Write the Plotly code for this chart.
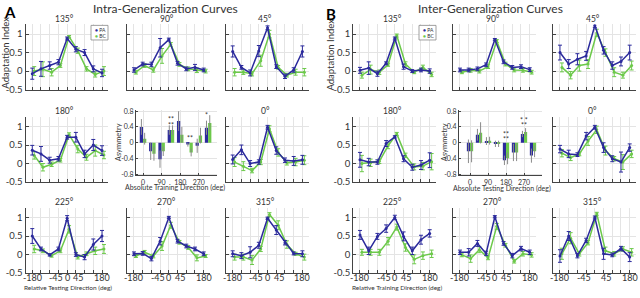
import plotly.graph_objects as go

W, H = 640, 298
BLUE = "#2b2a9c"
GREEN = "#6cc94a"
TXT = "#333333"
GRID = "#e4e4e4"
FONT = "Lato"

# ---------------- data ----------------
rel_dirs = [-180, -135, -90, -45, 0, 45, 90, 135, 180]
abs_dirs = [0, 45, 90, 135, 180, 225, 270, 315]
abs_ticks = [0, 90, 180, 270]
abs_ticktext = ["0", "90", "180", "270"]
rel_label_vals = [-180, -45, 0, 45, 180]
rel_label_text = ["-180", "-45", "0", "45", "180"]
rel_label_vals_no0 = [-180, -45, 45, 180]
rel_label_text_no0 = ["-180", "-45", "45", "180"]
y_ticks = [-0.5, 0, 0.5, 1]
y_ticktext = ["-0.5", "0", "0.5", "1"]

# Panel A (intra-generalization)
A135_PA = [-0.07, 0.06, 0.15, 0.24, 0.88, 0.59, 0.50, 0.06, -0.05]
A135_PA_err = [0.15, 0.2, 0.1, 0.07, 0.04, 0.07, 0.08, 0.08, 0.1]
A135_BC = [0.0, 0.05, -0.03, 0.15, 0.93, 0.55, 0.06, -0.09, 0.0]
A135_BC_err = [0.12, 0.2, 0.1, 0.05, 0.03, 0.07, 0.06, 0.07, 0.12]

A90_PA = [0.03, 0.19, 0.18, 0.63, 0.85, 0.21, 0.06, 0.10, 0.03]
A90_PA_err = [0.06, 0.05, 0.06, 0.25, 0.04, 0.05, 0.05, 0.08, 0.05]
A90_BC = [-0.03, 0.15, 0.03, 0.41, 0.72, 0.18, 0.06, 0.02, 0.0]
A90_BC_err = [0.05, 0.05, 0.06, 0.2, 0.05, 0.05, 0.05, 0.06, 0.05]

A45_PA = [0.53, 0.10, -0.05, 0.54, 1.17, 0.12, -0.14, 0.03, 0.53]
A45_PA_err = [0.15, 0.05, 0.08, 0.15, 0.05, 0.05, 0.06, 0.06, 0.15]
A45_BC = [-0.03, -0.03, -0.07, 0.28, 1.0, 0.10, -0.11, -0.03, -0.03]
A45_BC_err = [0.1, 0.06, 0.06, 0.15, 0.1, 0.05, 0.05, 0.08, 0.1]

A180_PA = [0.36, 0.26, 0.09, 0.13, 0.71, 0.71, 0.26, 0.50, 0.35]
A180_PA_err = [0.13, 0.2, 0.08, 0.06, 0.05, 0.13, 0.1, 0.15, 0.13]
A180_BC = [0.22, -0.10, -0.02, 0.09, 0.78, 0.39, 0.17, 0.35, 0.23]
A180_BC_err = [0.1, 0.1, 0.06, 0.05, 0.05, 0.1, 0.08, 0.15, 0.1]

A0_PA = [0.11, 0.37, 0.0, 0.04, 0.98, 0.35, 0.09, 0.07, 0.10]
A0_PA_err = [0.12, 0.13, 0.08, 0.06, 0.05, 0.1, 0.06, 0.12, 0.12]
A0_BC = [0.04, -0.07, -0.19, 0.04, 0.94, 0.30, 0.02, 0.04, 0.09]
A0_BC_err = [0.12, 0.12, 0.06, 0.07, 0.08, 0.1, 0.06, 0.1, 0.12]

A225_PA = [0.50, 0.15, -0.01, 0.15, 0.98, 0.0, -0.07, 0.27, 0.50]
A225_PA_err = [0.2, 0.05, 0.03, 0.05, 0.07, 0.05, 0.07, 0.15, 0.15]
A225_BC = [0.15, 0.10, -0.03, 0.10, 0.68, -0.07, 0.02, 0.10, 0.15]
A225_BC_err = [0.1, 0.05, 0.04, 0.05, 0.1, 0.05, 0.05, 0.1, 0.12]

A270_PA = [0.02, 0.03, -0.11, 0.36, 1.0, 0.36, 0.23, 0.15, 0.02]
A270_PA_err = [0.05, 0.05, 0.06, 0.1, 0.03, 0.05, 0.05, 0.05, 0.05]
A270_BC = [-0.04, 0.06, -0.04, 0.23, 0.79, 0.33, 0.19, -0.09, -0.04]
A270_BC_err = [0.04, 0.05, 0.05, 0.12, 0.08, 0.05, 0.05, 0.08, 0.04]

A315_PA = [0.02, -0.03, 0.06, 0.25, 0.98, 0.66, 0.32, 0.03, 0.02]
A315_PA_err = [0.08, 0.08, 0.15, 0.08, 0.03, 0.12, 0.06, 0.04, 0.08]
A315_BC = [-0.07, -0.07, -0.15, 0.15, 1.08, 0.79, 0.27, 0.02, -0.07]
A315_BC_err = [0.08, 0.08, 0.12, 0.07, 0.05, 0.12, 0.1, 0.04, 0.08]

A_asym_PA = [0.40, -0.22, -0.42, 0.32, 0.55, -0.05, -0.08, 0.38]
A_asym_PA_err = [0.2, 0.22, 0.22, 0.12, 0.25, 0.05, 0.18, 0.18]
A_asym_BC = [0.10, -0.28, -0.22, 0.32, 0.20, -0.25, 0.18, 0.50]
A_asym_BC_err = [0.15, 0.18, 0.12, 0.12, 0.2, 0.1, 0.2, 0.2]

# Panel B (inter-generalization)
B135_PA = [0.02, 0.08, -0.07, 0.21, 0.88, 0.12, 0.0, 0.03, 0.0]
B135_PA_err = [0.08, 0.17, 0.07, 0.04, 0.04, 0.07, 0.04, 0.05, 0.06]
B135_BC = [-0.11, 0.04, -0.03, 0.17, 0.96, 0.19, -0.03, 0.10, -0.09]
B135_BC_err = [0.08, 0.12, 0.06, 0.04, 0.04, 0.06, 0.04, 0.06, 0.06]

B90_PA = [0.03, 0.03, 0.06, 0.17, 0.85, 0.25, 0.10, 0.12, 0.04]
B90_PA_err = [0.05, 0.05, 0.05, 0.05, 0.03, 0.05, 0.05, 0.05, 0.05]
B90_BC = [-0.03, 0.02, 0.0, 0.12, 0.81, 0.19, 0.03, 0.02, -0.03]
B90_BC_err = [0.04, 0.05, 0.05, 0.05, 0.04, 0.05, 0.05, 0.05, 0.05]

B45_PA = [0.50, 0.19, 0.32, 0.41, 1.23, 0.56, 0.15, 0.26, 0.50]
B45_PA_err = [0.2, 0.12, 0.15, 0.12, 0.05, 0.1, 0.1, 0.12, 0.2]
B45_BC = [0.10, -0.11, 0.15, 0.19, 1.03, 0.50, -0.03, -0.11, 0.15]
B45_BC_err = [0.12, 0.1, 0.15, 0.12, 0.1, 0.1, 0.12, 0.08, 0.12]

B180_PA = [0.10, 0.04, 0.04, 0.54, 0.72, 0.13, -0.10, -0.04, 0.09]
B180_PA_err = [0.2, 0.1, 0.06, 0.08, 0.03, 0.08, 0.08, 0.12, 0.2]
B180_BC = [0.0, 0.02, 0.06, 0.48, 0.80, 0.22, -0.09, -0.07, 0.05]
B180_BC_err = [0.22, 0.1, 0.06, 0.08, 0.04, 0.06, 0.08, 0.1, 0.22]

B0_PA = [0.39, 0.26, 0.24, 0.74, 0.98, 0.43, 0.13, 0.04, 0.43]
B0_PA_err = [0.1, 0.1, 0.05, 0.1, 0.05, 0.13, 0.08, 0.27, 0.1]
B0_BC = [0.28, 0.16, 0.26, 0.61, 0.91, 0.35, 0.13, 0.04, 0.26]
B0_BC_err = [0.1, 0.08, 0.05, 0.12, 0.1, 0.12, 0.06, 0.2, 0.1]

B225_PA = [0.53, 0.10, 0.49, 0.70, 1.0, 0.49, 0.10, 0.40, 0.57]
B225_PA_err = [0.12, 0.1, 0.08, 0.1, 0.06, 0.12, 0.1, 0.12, 0.1]
B225_BC = [0.06, 0.06, 0.06, 0.36, 0.74, 0.19, -0.13, -0.03, 0.02]
B225_BC_err = [0.08, 0.08, 0.08, 0.1, 0.08, 0.1, 0.12, 0.1, 0.1]

B270_PA = [0.06, 0.06, 0.30, 0.03, 1.02, 0.30, -0.03, 0.16, 0.06]
B270_PA_err = [0.06, 0.1, 0.08, 0.06, 0.03, 0.05, 0.06, 0.06, 0.06]
B270_BC = [-0.01, -0.11, 0.13, -0.09, 0.76, 0.25, -0.18, 0.02, -0.01]
B270_BC_err = [0.05, 0.1, 0.08, 0.05, 0.08, 0.05, 0.05, 0.06, 0.06]

B315_PA = [-0.04, 0.50, -0.03, 0.38, 1.0, 0.02, -0.01, 0.16, -0.07]
B315_PA_err = [0.17, 0.12, 0.06, 0.06, 0.04, 0.15, 0.05, 0.06, 0.12]
B315_BC = [0.02, 0.44, 0.02, 0.32, 1.10, 0.10, 0.02, 0.15, 0.06]
B315_BC_err = [0.15, 0.15, 0.06, 0.06, 0.04, 0.1, 0.06, 0.06, 0.1]

B_asym_PA = [-0.22, 0.20, 0.04, -0.03, -0.45, -0.25, 0.22, -0.33]
B_asym_PA_err = [0.3, 0.15, 0.1, 0.08, 0.12, 0.22, 0.08, 0.18]
B_asym_BC = [-0.22, 0.25, 0.05, -0.03, -0.40, -0.25, 0.27, -0.22]
B_asym_BC_err = [0.28, 0.27, 0.1, 0.08, 0.15, 0.22, 0.1, 0.15]

# ---------------- layout helpers ----------------
def fx(p):
    return p / W

def fy(p):
    return 1 - p / H

fig = go.Figure()
layout = dict(
    width=W, height=H, margin=dict(l=0, r=0, t=0, b=0),
    paper_bgcolor="white", plot_bgcolor="white", showlegend=False,
    font=dict(family=FONT, color=TXT, size=8),
    barmode="group", bargap=0.3, bargroupgap=0.0,
)
annotations = []
shapes = []

ROWS = {1: (22, 89), 2: (117, 184), 3: (210.5, 277.5)}
TITLE_Y = {1: 16, 2: 111, 3: 204}
COLS_A = [25.5, 127.2, 225.9]
COLS_B = [353.2, 453.2, 553.2]
PLOT_W = 82.7
XR = [-215, 212]
YR = [-0.5, 1.26]
XLABEL_SHIFT = {-180: 0, -45: -2.5, 0: 0, 45: 2.5, 180: 0}

ax_n = [0]

def new_axes():
    ax_n[0] += 1
    n = ax_n[0]
    sx = "" if n == 1 else str(n)
    return n, "x" + sx, "y" + sx, "xaxis" + sx, "yaxis" + sx

def line_panel(pa, pa_err, bc, bc_err, col_x0, row, title, show_y, xlabels=None):
    n, xr, yr, xa, ya = new_axes()
    y0, y1 = ROWS[row]
    layout[xa] = dict(
        domain=[fx(col_x0), fx(col_x0 + PLOT_W)], range=XR, anchor=yr,
        tickmode="array", tickvals=rel_dirs, ticktext=[""] * 9,
        showgrid=True, gridcolor=GRID, gridwidth=1, zeroline=False,
        showline=True, linecolor="#444", linewidth=1,
        ticks="inside", ticklen=3, tickcolor="#444", fixedrange=True,
    )
    layout[ya] = dict(
        domain=[fy(y1), fy(y0)], range=YR, anchor=xr,
        tickmode="array", tickvals=y_ticks,
        ticktext=y_ticktext if show_y else [""] * 4,
        showgrid=True, gridcolor=GRID, gridwidth=1, zeroline=False,
        showline=True, linecolor="#444", linewidth=1,
        ticks="inside", ticklen=3, tickcolor="#444",
        tickfont=dict(size=9.5, color=TXT), fixedrange=True,
    )
    fig.add_trace(go.Scatter(
        x=[d + 10 for d in rel_dirs], y=bc, xaxis=xr, yaxis=yr, mode="lines+markers",
        line=dict(color=GREEN, width=1.5), marker=dict(color=GREEN, size=3),
        error_y=dict(type="data", array=bc_err, color=GREEN, thickness=1, width=2),
        name="BC"))
    fig.add_trace(go.Scatter(
        x=rel_dirs, y=pa, xaxis=xr, yaxis=yr, mode="lines+markers",
        line=dict(color=BLUE, width=1.5), marker=dict(color=BLUE, size=3),
        error_y=dict(type="data", array=pa_err, color=BLUE, thickness=1, width=2),
        name="PA"))
    annotations.append(dict(
        text=title, x=fx(col_x0 + PLOT_W / 2 - 2), y=fy(TITLE_Y[row]),
        xref="paper", yref="paper", showarrow=False,
        font=dict(size=8.5, color=TXT), xanchor="center", yanchor="middle"))
    if xlabels is not None:
        vals, texts = xlabels
        for v, t in zip(vals, texts):
            annotations.append(dict(
                text=t, x=v, y=fy(y1 + 5), xref=xr, yref="paper", showarrow=False,
                xshift=XLABEL_SHIFT[v], font=dict(size=9, color=TXT),
                xanchor="center", yanchor="middle"))

def bar_panel(pa, pa_err, bc, bc_err, x0, x1, xr_range):
    n, xr, yr, xa, ya = new_axes()
    layout[xa] = dict(
        domain=[fx(x0), fx(x1)], range=xr_range, anchor=yr,
        tickmode="array", tickvals=abs_ticks, ticktext=abs_ticktext, tickangle=0,
        showgrid=True, gridcolor=GRID, zeroline=False,
        showline=True, linecolor="#444", linewidth=1,
        ticks="inside", ticklen=2, tickcolor="#444",
        tickfont=dict(size=7, color=TXT), fixedrange=True,
    )
    layout[ya] = dict(
        domain=[fy(177), fy(110)], range=[-0.83, 0.83], anchor=xr,
        tickmode="array", tickvals=[-0.8, -0.4, 0, 0.4, 0.8],
        ticktext=["-0.8", "-0.4", "0", "0.4", "0.8"],
        showgrid=True, gridcolor=GRID, zeroline=False,
        showline=True, linecolor="#444", linewidth=1,
        ticks="inside", ticklen=2, tickcolor="#444",
        tickfont=dict(size=7, color=TXT), fixedrange=True,
    )
    fig.add_trace(go.Bar(
        x=abs_dirs, y=pa, xaxis=xr, yaxis=yr, marker=dict(color=BLUE, line=dict(width=0)),
        error_y=dict(type="data", array=pa_err, color="#8a8a8a", thickness=1, width=0),
        name="PA", offsetgroup="pa"))
    fig.add_trace(go.Bar(
        x=abs_dirs, y=bc, xaxis=xr, yaxis=yr, marker=dict(color=GREEN, line=dict(width=0)),
        error_y=dict(type="data", array=bc_err, color="#8a8a8a", thickness=1, width=0),
        name="BC", offsetgroup="bc"))
    return xr, yr

full = (rel_label_vals, rel_label_text)
no0 = (rel_label_vals_no0, rel_label_text_no0)

# ---------------- Panel A ----------------
line_panel(A135_PA, A135_PA_err, A135_BC, A135_BC_err, COLS_A[0], 1, "135°", True)
line_panel(A90_PA, A90_PA_err, A90_BC, A90_BC_err, COLS_A[1], 1, "90°", False)
line_panel(A45_PA, A45_PA_err, A45_BC, A45_BC_err, COLS_A[2], 1, "45°", False)
line_panel(A180_PA, A180_PA_err, A180_BC, A180_BC_err, COLS_A[0], 2, "180°", True)
line_panel(A0_PA, A0_PA_err, A0_BC, A0_BC_err, COLS_A[2], 2, "0°", False)
line_panel(A225_PA, A225_PA_err, A225_BC, A225_BC_err, COLS_A[0], 3, "225°", True, full)
line_panel(A270_PA, A270_PA_err, A270_BC, A270_BC_err, COLS_A[1], 3, "270°", False, full)
line_panel(A315_PA, A315_PA_err, A315_BC, A315_BC_err, COLS_A[2], 3, "315°", False, full)
axA = bar_panel(A_asym_PA, A_asym_PA_err, A_asym_BC, A_asym_BC_err, 136, 217, [-34, 358])

# ---------------- Panel B ----------------
line_panel(B135_PA, B135_PA_err, B135_BC, B135_BC_err, COLS_B[0], 1, "135°", True)
line_panel(B90_PA, B90_PA_err, B90_BC, B90_BC_err, COLS_B[1], 1, "90°", False)
line_panel(B45_PA, B45_PA_err, B45_BC, B45_BC_err, COLS_B[2], 1, "45°", False)
line_panel(B180_PA, B180_PA_err, B180_BC, B180_BC_err, COLS_B[0], 2, "180°", True)
line_panel(B0_PA, B0_PA_err, B0_BC, B0_BC_err, COLS_B[2], 2, "0°", False)
line_panel(B225_PA, B225_PA_err, B225_BC, B225_BC_err, COLS_B[0], 3, "225°", True, full)
line_panel(B270_PA, B270_PA_err, B270_BC, B270_BC_err, COLS_B[1], 3, "270°", False, full)
line_panel(B315_PA, B315_PA_err, B315_BC, B315_BC_err, COLS_B[2], 3, "315°", False, no0)
axB = bar_panel(B_asym_PA, B_asym_PA_err, B_asym_BC, B_asym_BC_err, 459, 542, [-55, 360])

# asterisks
def star(ax, x, y, t):
    annotations.append(dict(text=t, x=x, y=y, xref=ax[0], yref=ax[1], showarrow=False,
                            font=dict(size=7, color=TXT), xanchor="center", yanchor="middle"))

star(axA, 135, 0.60, "**")
star(axA, 135, 0.46, "**")
star(axA, 180, 0.88, "*")
star(axA, 225, 0.12, "**")
star(axA, 305, 0.70, "*")
star(axA, 325, 0.86, "*")
star(axB, 180, 0.22, "**")
star(axB, 180, 0.10, "**")
star(axB, 270, 0.58, "* *")
star(axB, 270, 0.44, "**")

# ---------------- text ----------------
def txt(t, x, y, size, bold=False, angle=0, xanchor="center"):
    annotations.append(dict(text=("<b>%s</b>" % t) if bold else t, x=fx(x), y=fy(y),
                            xref="paper", yref="paper", showarrow=False, textangle=angle,
                            font=dict(size=size, color=TXT if not bold else "#000"),
                            xanchor=xanchor, yanchor="middle"))

txt("A", 10, 9, 15, bold=True)
txt("B", 331, 11, 15, bold=True)
txt("Intra-Generalization Curves", 165, 6, 12)
txt("Inter-Generalization Curves", 490, 6, 12)
txt("Adaptation Index", 6, 51, 9.5, angle=-90)
txt("Adaptation Index", 331, 53, 9.5, angle=-90)
txt("Relative Testing Direction (deg)", 68, 292, 6.5)
txt("Relative Training Direction (deg)", 397, 292, 6.5)
txt("Absolute Training Direction (deg)", 175, 190, 7)
txt("Absolute Testing Direction (deg)", 502, 191, 7)
txt("Asymmetry", 118, 143, 7.5, angle=-90)
txt("Asymmetry", 444, 143, 7.5, angle=-90)

# legends
def legend_box(x0, y0, x1, y1):
    shapes.append(dict(type="rect", xref="paper", yref="paper", x0=fx(x0), x1=fx(x1),
                       y0=fy(y1), y1=fy(y0), line=dict(color="#888", width=0.8),
                       fillcolor="white"))
    annotations.append(dict(text="<span style='color:%s'>●</span> PA" % BLUE, x=fx(x0 + 1.5),
                            y=fy(y0 + 4.5), xref="paper", yref="paper", showarrow=False,
                            font=dict(size=5, color=TXT), xanchor="left", yanchor="middle"))
    annotations.append(dict(text="<span style='color:%s'>●</span> BC" % GREEN, x=fx(x0 + 1.5),
                            y=fy(y0 + 11), xref="paper", yref="paper", showarrow=False,
                            font=dict(size=5, color=TXT), xanchor="left", yanchor="middle"))

legend_box(91, 23, 108, 38)
legend_box(419, 23, 436, 38)

layout["annotations"] = annotations
layout["shapes"] = shapes
fig.update_layout(**layout)
fig.write_html(
    "out.html",
    config={"displayModeBar": False},
    post_script="document.body.style.margin='0px';document.body.style.padding='0px';",
)
